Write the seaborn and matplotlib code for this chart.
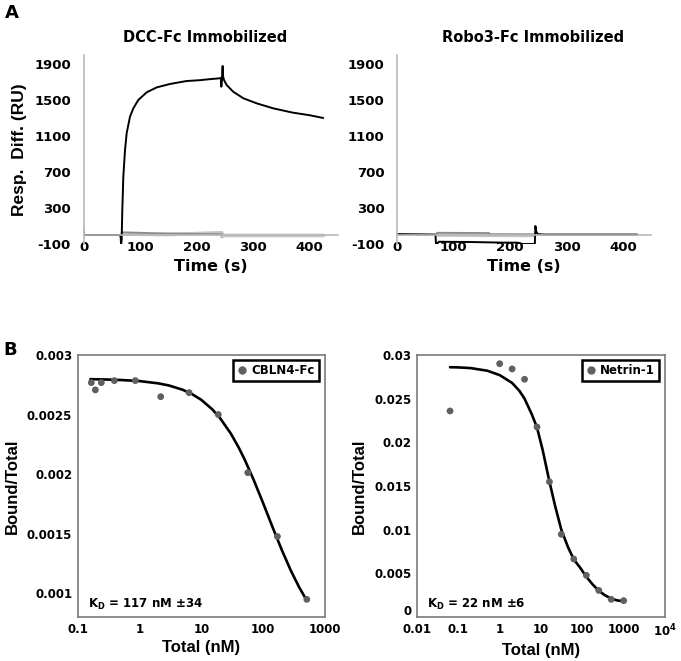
import numpy as np
import pandas as pd
import matplotlib
matplotlib.use("Agg")
import matplotlib.pyplot as plt
import matplotlib.transforms as mtransforms
import seaborn as sns
from matplotlib.lines import Line2D

# ---------------- Panel A data (sensorgrams) ----------------
dcc_t = [0, 1, 64, 65.8, 66.5, 67.5, 68.7, 70.5, 73.5, 76.4, 82.3, 88.2, 97, 111.8, 129.6,
         153, 182.6, 206, 221, 241, 243.5, 244, 245, 246.3, 247.2, 248.7, 253.4, 265, 283,
         306.5, 336, 371, 401, 424.4]
dcc_v = [60, 0, 0, -20, -110, -60, 278, 648, 944, 1130, 1315, 1407, 1500, 1585, 1640,
         1678, 1711, 1720, 1730, 1741, 1745, 1648, 1740, 1878, 1760, 1722, 1667, 1592, 1519,
         1463, 1407, 1359, 1330, 1300]
dcc_g1_t = [68, 100, 120, 200, 245]
dcc_g1_v = [30, 25, 20, 12, 8]
dcc_g2_t = [68, 150, 245, 245, 246, 425]
dcc_g2_v = [10, 5, 25, -20, -5, -5]

robo_t = [0, 68, 69, 71, 74, 130, 190, 214, 216, 244, 245, 246.5, 249, 260, 425]
robo_v = [10, 5, -95, -100, -75, -78, -85, -85, -100, -100, 100, 40, 10, 5, 5]
robo_g1_t = [70, 71, 163, 164, 244]
robo_g1_v = [5, 25, 22, 8, 8]
robo_g2_t = [71, 244]
robo_g2_v = [0, -5]

a_yticks = [-100, 300, 700, 1100, 1500, 1900]
a_xticks = [0, 100, 200, 300, 400]

# ---------------- Panel B data (binding) ----------------
cbln_x = [0.166, 0.193, 0.241, 0.391, 0.855, 2.2, 6.32, 18.8, 56.4, 170, 508]
cbln_y = [0.002768, 0.002707, 0.002768, 0.002785, 0.002785, 0.00265, 0.002684,
          0.0025, 0.002012, 0.001476, 0.000948]
cbln_fit_x = [0.16, 0.3, 0.5, 1, 2, 3, 5, 7, 10, 15, 20, 30, 40, 50, 70, 100, 140,
              200, 280, 380, 480]
cbln_fit_y = [0.002797, 0.002794, 0.00279, 0.002781, 0.002762, 0.002744, 0.002708,
              0.002673, 0.002623, 0.002544, 0.002471, 0.00234, 0.002225, 0.002124,
              0.001953, 0.001755, 0.001562, 0.001363, 0.00119, 0.001052, 0.00096]

net_x = [0.063, 1, 2, 4, 8, 16, 31, 62, 125, 250, 500, 1000]
net_y = [0.02359, 0.0290, 0.0284, 0.02722, 0.02176, 0.01549, 0.00947, 0.00664,
         0.00477, 0.00305, 0.00202, 0.00187]
net_fit_x = [0.063, 0.1, 0.2, 0.5, 1, 2, 3, 4, 6, 8, 11, 16, 22, 31, 45, 62, 90, 125,
             180, 250, 350, 500, 700, 1000]
net_fit_y = [0.0286, 0.02858, 0.0285, 0.0282, 0.0277, 0.0268, 0.0259, 0.0250, 0.0232,
             0.0217, 0.0191, 0.0155, 0.0127, 0.0100, 0.0080, 0.0066, 0.0056, 0.0046,
             0.0037, 0.0030, 0.0025, 0.0021, 0.0019, 0.0018]

bl_yticks = [0.001, 0.0015, 0.002, 0.0025, 0.003]
bl_yticklabels = ["0.001", "0.0015", "0.002", "0.0025", "0.003"]
bl_xticks = [0.1, 1, 10, 100, 1000]
bl_xticklabels = ["0.1", "1", "10", "100", "1000"]
br_yticks = [0, 0.005, 0.01, 0.015, 0.02, 0.025, 0.03]
br_yticklabels = ["0", "0.005", "0.01", "0.015", "0.02", "0.025", "0.03"]
br_xticks = [0.01, 0.1, 1, 10, 100, 1000, 10000]
br_xticklabels = ["0.01", "0.1", "1", "10", "100", "1000", "10$^{4}$"]

# ---------------- figure ----------------
sns.set_theme(style="white")
plt.rcParams["font.family"] = ["DejaVu Sans"]
plt.rcParams["font.weight"] = "bold"
plt.rcParams["mathtext.default"] = "bf"
for k in ["text.color", "axes.labelcolor", "xtick.labelcolor", "ytick.labelcolor"]:
    plt.rcParams[k] = "black"

W, H = 681, 661
fig = plt.figure(figsize=(W / 100, H / 100), dpi=100)


def box(x0, x1, ytop, ybot):
    return [x0 / W, 1 - ybot / H, (x1 - x0) / W, (ybot - ytop) / H]


axA1 = fig.add_axes(box(83.5, 337.7, 55, 244))
axA2 = fig.add_axes(box(397, 651.2, 55, 244))
axB1 = fig.add_axes(box(77.7, 325, 355, 617))
axB2 = fig.add_axes(box(417, 665, 355, 617))

BLACK = "#000000"
G1 = "#8a8a8a"
G2 = "#c4c4c4"
AXG = "#b8b8b8"

for ax, (t, v, g1t, g1v, g2t, g2v) in [
    (axA1, (dcc_t, dcc_v, dcc_g1_t, dcc_g1_v, dcc_g2_t, dcc_g2_v)),
    (axA2, (robo_t, robo_v, robo_g1_t, robo_g1_v, robo_g2_t, robo_g2_v)),
]:
    sns.lineplot(x=g2t, y=g2v, ax=ax, color=G2, lw=2.6, sort=False, estimator=None)
    sns.lineplot(x=g1t, y=g1v, ax=ax, color=G1, lw=1.3, sort=False, estimator=None)
    sns.lineplot(x=t, y=v, ax=ax, color=BLACK, lw=1.4, sort=False, estimator=None)
    ax.set_xlim(0, 450)
    ax.set_ylim(-100, 2000)
    ax.set_yticks(a_yticks)
    ax.set_yticklabels([str(k) for k in a_yticks])
    ax.set_xticks(a_xticks)
    ax.set_xticklabels([str(k) for k in a_xticks])
    for s in ["top", "right"]:
        ax.spines[s].set_visible(False)
    ax.spines["bottom"].set_position(("data", 0))
    for s in ["left", "bottom"]:
        ax.spines[s].set_color(AXG)
        ax.spines[s].set_linewidth(1.2)
    ax.tick_params(axis="y", direction="out", length=3, width=1, color=AXG,
                   labelsize=9.5, pad=6)
    ax.tick_params(axis="x", direction="in", length=3, width=1, color=AXG,
                   labelsize=9.5, pad=4)
    ax.set_xlabel("Time (s)", fontsize=11.5, fontweight="bold", labelpad=4)
    ax.set_ylabel("")
    ax.set_facecolor("none")

fig.text(205 / W, 1 - 38 / H, "DCC-Fc Immobilized", ha="center", va="center",
         fontsize=10.5, fontweight="bold")
fig.text(533 / W, 1 - 38 / H, "Robo3-Fc Immobilized", ha="center", va="center",
         fontsize=10.5, fontweight="bold")
fig.text(20 / W, 1 - 150 / H, "Resp.  Diff. (RU)", ha="center", va="center",
         rotation=90, fontsize=12.5, fontweight="bold", family=["Liberation Sans"])
fig.text(5 / W, 1 - 4 / H, "A", ha="left", va="top", fontsize=13, fontweight="bold")
fig.text(3 / W, 1 - 341 / H, "B", ha="left", va="top", fontsize=13, fontweight="bold")

# ---------------- Panel B ----------------
PT = "#606060"
for ax, (px, py, fx, fy, lab, kd, xt, xtl, yt, ytl, xlim, ylim) in [
    (axB1, (cbln_x, cbln_y, cbln_fit_x, cbln_fit_y, "CBLN4-Fc",
            r"K$_\mathregular{D}$ = 117 nM $\pm$34", bl_xticks, bl_xticklabels,
            bl_yticks, bl_yticklabels, (0.1, 1000), (0.0008, 0.003))),
    (axB2, (net_x, net_y, net_fit_x, net_fit_y, "Netrin-1",
            r"K$_\mathregular{D}$ = 22 nM $\pm$6", br_xticks, br_xticklabels,
            br_yticks, br_yticklabels, (0.01, 10000), (0, 0.03))),
]:
    sns.lineplot(x=fx, y=fy, ax=ax, color=BLACK, lw=1.9, sort=False, estimator=None)
    sns.scatterplot(x=px, y=py, ax=ax, color=PT, s=24, edgecolor="none", zorder=3)
    ax.set_xscale("log")
    ax.set_xlim(*xlim)
    ax.set_ylim(*ylim)
    ax.set_xticks(xt)
    ax.set_xticklabels(xtl)
    ax.set_yticks(yt)
    ax.set_yticklabels(ytl)
    ax.minorticks_off()
    for s in ax.spines.values():
        s.set_visible(True)
        s.set_color("#7a7a7a")
        s.set_linewidth(1.2)
    ax.tick_params(axis="both", direction="in", length=4, width=1, color="#9a9a9a",
                   labelsize=8.5, pad=4)
    ax.set_xlabel("Total (nM)", fontsize=12, fontweight="bold", labelpad=3,
                  family=["Liberation Sans"])
    ax.set_ylabel("Bound/Total", fontsize=12, fontweight="bold", labelpad=6,
                  family=["Liberation Sans"])
    h = Line2D([], [], marker="o", ls="none", color=PT, markersize=5)
    leg = ax.legend([h], [lab], loc="upper right", bbox_to_anchor=(0.976, 0.981),
                    borderaxespad=0, fancybox=False, framealpha=1, handlelength=0.8,
                    handletextpad=0.4, borderpad=0.35,
                    prop={"weight": "bold", "size": 8.5})
    leg.get_frame().set_edgecolor("black")
    leg.get_frame().set_linewidth(1.8)
    ax.text(0.042, 0.046, kd, transform=ax.transAxes, ha="left", va="center",
            fontsize=8.5, fontweight="bold")

axB1.yaxis.set_label_coords(-(77.7 - 20) / 247.3, 0.5)
axB2.yaxis.set_label_coords(-(417 - 367) / 248, 0.5)

# lift the "0" label of the right binding plot a little so it clears "0.01"
zero_lab = axB2.get_yticklabels()[0]
zero_lab.set_transform(zero_lab.get_transform()
                       + mtransforms.ScaledTranslation(0, 5 / 72, fig.dpi_scale_trans))

fig.savefig("out.png", dpi=100)
